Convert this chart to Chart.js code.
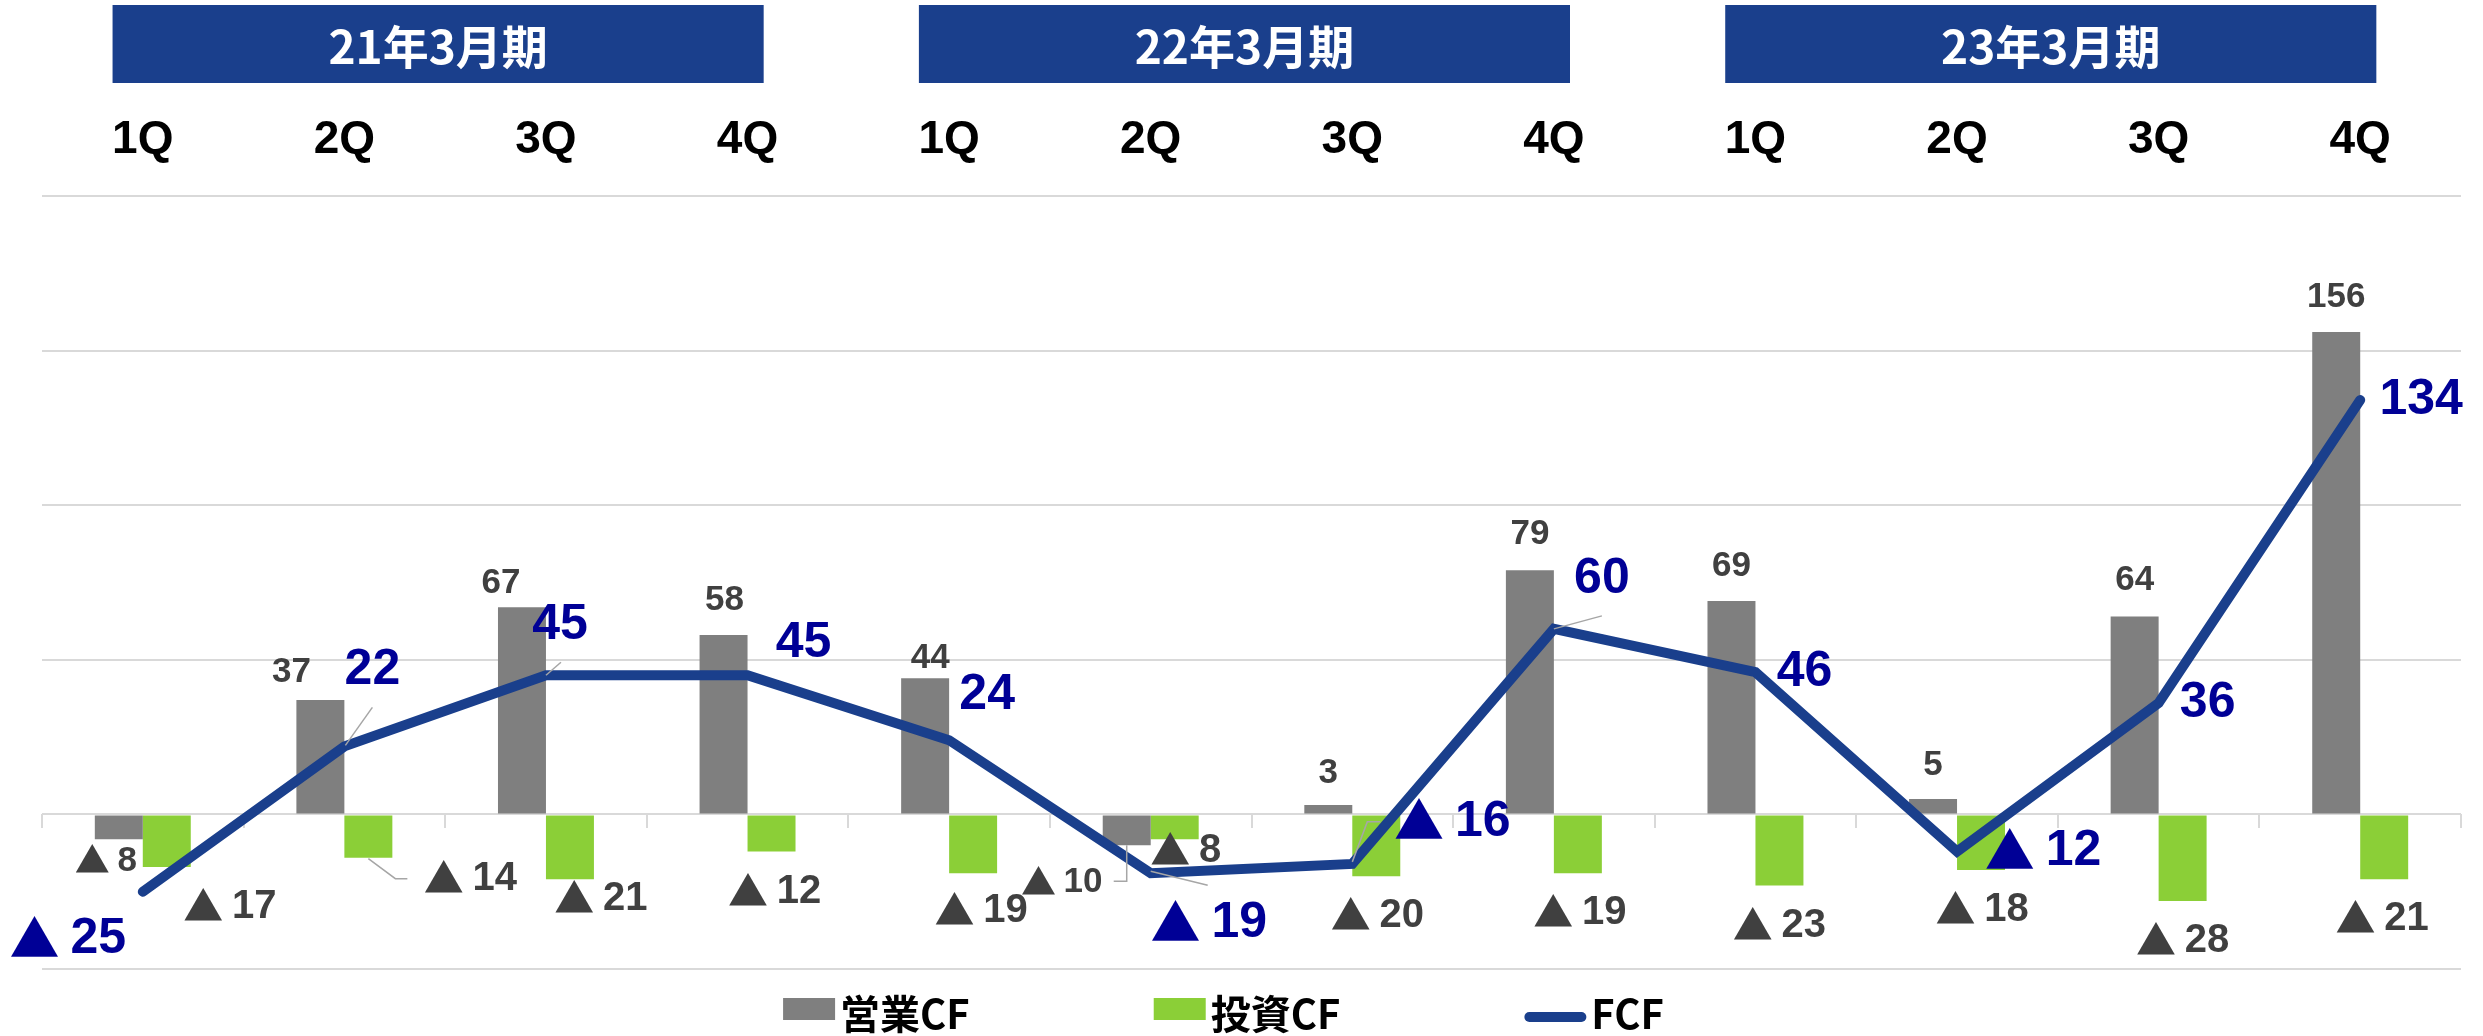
<!DOCTYPE html>
<html lang="ja">
<head>
<meta charset="UTF-8">
<title>キャッシュフロー推移</title>
<script src="https://cdn.jsdelivr.net/npm/chart.js@4.4.0/dist/chart.umd.min.js"></script>
<style>
  html, body { margin: 0; padding: 0; background: #fff; }
  .wrap { width: 2483px; height: 1036px; position: relative; }
</style>
</head>
<body>
<div class="wrap"><canvas id="cfChart"></canvas></div>
<script>
// data (億円)
const quarterLabels = ['1Q', '2Q', '3Q', '4Q', '1Q', '2Q', '3Q', '4Q', '1Q', '2Q', '3Q', '4Q'];
const fiscalPeriods = ['21年3月期', '22年3月期', '23年3月期'];
const seriesNames = ['営業CF', '投資CF', 'FCF'];
const operatingCF = [-8, 37, 67, 58, 44, -10, 3, 79, 69, 5, 64, 156];
const investingCF = [-17, -14, -21, -12, -19, -8, -20, -19, -23, -18, -28, -21];
const freeCF = [-25, 22, 45, 45, 24, -19, -16, 60, 46, -12, 36, 134];
const yMin = -50, yMax = 200, yStep = 50;

const GRAY = '#7f7f7f';
const GREEN = '#8bcf37';
const NAVY = '#1a3f8c';
const LABEL_NAVY = '#000096';
const DARK = '#404040';
const GRID = '#d9d9d9';
const NUM_FONT = "'Liberation Sans', Arial, sans-serif";
const JP_FONT = "'Noto Sans CJK JP', sans-serif";
const MARK = '▲';

// label placement, relative to the bar end / line point
const labelCfg = [
    { size: 35, color: DARK, above: 35, below: 24,
      shift: [[-13, -2], [-29, 7], [-21, 11], [1, 0], [5, 15], [-65, 13], [0, 3], [0, -1], [0, 0], [0, 1], [0, -1], [0, 0]] },
    { size: 40, color: DARK, above: 35, below: 40,
      shift: [[63, 0], [102, -19], [31, -20], [3, 0], [8, -2], [11, -28], [1, 0], [2, 0], [0, 0], [1, 0], [0, 0], [-2, 0]] },
    { size: 50, color: LABEL_NAVY, above: 0, below: 0,
      shift: [[-75, 48], [28, -76], [14, -50], [56, -32], [38, -45], [58, 50], [100, -42], [48, -50], [49, 0], [86, 0], [49, 0], [61, 0]] }
];

// leader lines (dataset, index, points relative to anchor)
const leaders = [
    { ds: 1, i: 1, pts: [[0, 1], [27, 21], [39, 21]] },
    { ds: 0, i: 5, pts: [[0, 0], [0, 36], [-13, 36]] },
    { ds: 2, i: 1, pts: [[1, -1], [28, -39]] },
    { ds: 2, i: 2, pts: [[0, 0], [15, -13]] },
    { ds: 2, i: 5, pts: [[0, -2], [57, 12]] },
    { ds: 2, i: 6, pts: [[0, -2], [15, -42], [28, -42]] },
    { ds: 2, i: 7, pts: [[0, 0], [48, -13]] }
];

// negative numbers are written as "▲ n", the mark comes from the JP font
function drawValue(ctx, v, cx, cy, size) {
    const num = String(Math.abs(v));
    const numFont = 'bold ' + size + 'px ' + NUM_FONT;
    ctx.textBaseline = 'middle';
    if (v >= 0) {
        ctx.font = numFont;
        ctx.textAlign = 'center';
        ctx.fillText(num, cx, cy);
        return;
    }
    const markFont = size + 'px ' + JP_FONT;
    ctx.font = markFont;
    const wm = ctx.measureText(MARK).width;
    ctx.font = numFont;
    const wn = ctx.measureText(num).width;
    const gap = size * 0.22;
    let x = cx - (wm + gap + wn) / 2;
    ctx.textAlign = 'left';
    ctx.font = markFont;
    ctx.fillText(MARK, x, cy - size * 0.03);
    ctx.font = numFont;
    ctx.fillText(num, x + wm + gap, cy);
}

const labelPlugin = {
    id: 'cfLabels',
    afterDatasetsDraw(chart) {
        const ctx = chart.ctx;
        ctx.save();
        ctx.strokeStyle = '#a6a6a6';
        ctx.lineWidth = 1.5;
        leaders.forEach(function (l) {
            const el = chart.getDatasetMeta(l.ds).data[l.i];
            ctx.beginPath();
            l.pts.forEach(function (p, k) {
                if (k === 0) ctx.moveTo(el.x + p[0], el.y + p[1]);
                else ctx.lineTo(el.x + p[0], el.y + p[1]);
            });
            ctx.stroke();
        });

        chart.data.datasets.forEach(function (ds, di) {
            const cfg = labelCfg[di];
            ctx.fillStyle = cfg.color;
            chart.getDatasetMeta(di).data.forEach(function (el, i) {
                const v = ds.data[i];
                const s = cfg.shift[i] || [0, 0];
                const y = el.y + (v >= 0 ? -cfg.above : cfg.below) + s[1];
                drawValue(ctx, v, el.x + s[0], y, cfg.size);
            });
        });
        ctx.restore();
    }
};

const headerPlugin = {
    id: 'periodHeaders',
    afterDraw(chart) {
        const x = chart.scales.x;
        const ctx = chart.ctx;
        const step = x.getPixelForValue(1) - x.getPixelForValue(0);
        ctx.save();
        fiscalPeriods.forEach(function (p, g) {
            const l = x.getPixelForValue(g * 4) - step / 2 + step * 0.35;
            const r = x.getPixelForValue(g * 4 + 3) + step / 2 - step * 0.42;
            ctx.fillStyle = NAVY;
            ctx.fillRect(l, 5, r - l, 78);
            ctx.fillStyle = '#ffffff';
            ctx.font = 'bold 46px ' + JP_FONT;
            ctx.textAlign = 'center';
            ctx.textBaseline = 'middle';
            ctx.fillText(p, (l + r) / 2, 47);
        });
        ctx.restore();
    }
};

const legendPlugin = {
    id: 'cfLegend',
    afterDraw(chart) {
        const ctx = chart.ctx;
        const area = chart.chartArea;
        const colors = [GRAY, GREEN, NAVY];
        ctx.save();
        ctx.font = 'bold 40px ' + JP_FONT;
        const items = seriesNames.map(function (n, k) {
            const mw = k === 2 ? 62 : 52;
            return { text: n, color: colors[k], line: k === 2, mw: mw, w: mw + 5 + ctx.measureText(n).width };
        });
        const gap = 184;
        const total = items.reduce(function (a, it) { return a + it.w; }, 0) + gap * (items.length - 1);
        let x = (area.left + area.right) / 2 - 28 - total / 2;
        const yb = area.bottom;
        items.forEach(function (it) {
            if (it.line) {
                ctx.strokeStyle = it.color;
                ctx.lineWidth = 10;
                ctx.lineCap = 'round';
                ctx.beginPath();
                ctx.moveTo(x + 5, yb + 48);
                ctx.lineTo(x + it.mw - 5, yb + 48);
                ctx.stroke();
            } else {
                ctx.fillStyle = it.color;
                ctx.fillRect(x, yb + 29, it.mw, 22);
            }
            ctx.fillStyle = '#000000';
            ctx.textAlign = 'left';
            ctx.textBaseline = 'middle';
            ctx.fillText(it.text, x + it.mw + 5, yb + 45);
            x += it.w + gap;
        });
        ctx.restore();
    }
};

new Chart(document.getElementById('cfChart'), {
    data: {
        labels: quarterLabels,
        datasets: [
            { type: 'bar', label: seriesNames[0], data: operatingCF, backgroundColor: GRAY,
              categoryPercentage: 0.476, barPercentage: 1, order: 2 },
            { type: 'bar', label: seriesNames[1], data: investingCF, backgroundColor: GREEN,
              categoryPercentage: 0.476, barPercentage: 1, order: 2 },
            { type: 'line', label: seriesNames[2], data: freeCF, borderColor: NAVY, backgroundColor: NAVY,
              borderWidth: 10, pointRadius: 0, tension: 0, borderCapStyle: 'round', borderJoinStyle: 'miter', order: 1 }
        ]
    },
    options: {
        responsive: true,
        maintainAspectRatio: false,
        animation: false,
        layout: { padding: { left: 42, right: 22, top: 0, bottom: 67 } },
        plugins: { legend: { display: false }, tooltip: { enabled: false } },
        scales: {
            x: {
                type: 'category',
                position: 'top',
                offset: true,
                grid: { display: false, drawTicks: false },
                border: { display: false },
                ticks: { color: '#000000', font: { family: NUM_FONT, size: 46, weight: 'bold' },
                         padding: 28, maxRotation: 0, autoSkip: false },
                afterFit(s) { s.height = 196; }
            },
            x2: {
                type: 'category',
                position: { y: 0 },
                offset: true,
                ticks: { display: false },
                grid: { drawOnChartArea: false, drawTicks: true, tickLength: 14, color: GRID, lineWidth: 2, offset: true },
                border: { display: false }
            },
            y: {
                min: yMin,
                max: yMax,
                ticks: { stepSize: yStep, display: false },
                grid: { color: GRID, lineWidth: 2, drawTicks: false },
                border: { display: false },
                afterFit(s) { s.width = 0; }
            }
        }
    },
    plugins: [headerPlugin, labelPlugin, legendPlugin]
});
</script>
</body>
</html>
